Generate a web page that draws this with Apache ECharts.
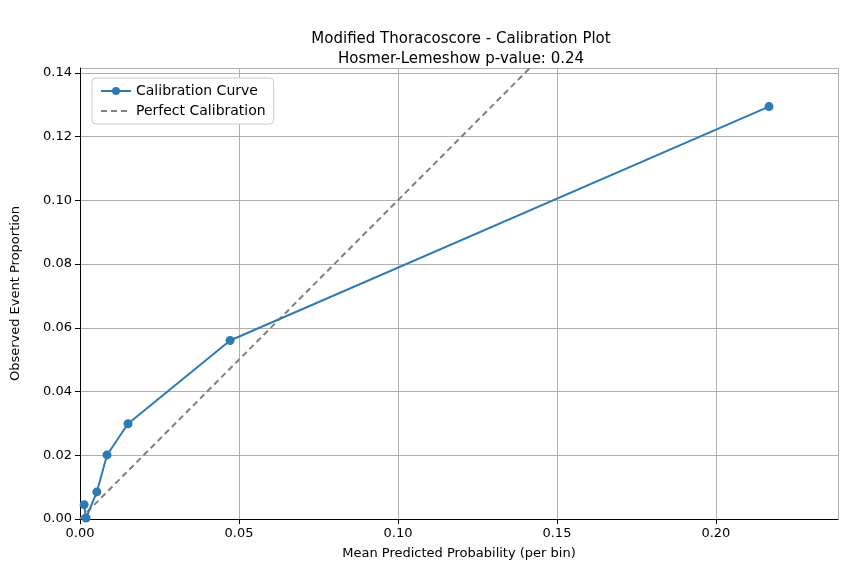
<!DOCTYPE html>
<html><head><meta charset="utf-8">
<script src="https://cdn.jsdelivr.net/npm/echarts@6/dist/echarts.min.js"></script>
<style>body{margin:0;background:#fff}#c{width:862px;height:584px}</style>
</head><body><div id="c"></div>
<script>
var predX = [0.0013, 0.0019, 0.0053, 0.0085, 0.0151, 0.0472, 0.2167];
var obsY = [0.0045, 0.0003, 0.0085, 0.0201, 0.0299, 0.0560, 0.1294];
var perfect = [[0, 0], [0.1415, 0.1415]];

var curve = [];
for (var i = 0; i < predX.length; i++) curve.push([predX[i], obsY[i]]);

var chart = echarts.init(document.getElementById("c"));
chart.setOption({
    animation: false,
    title: {
        text: "Modified Thoracoscore - Calibration Plot\nHosmer-Lemeshow p-value: 0.24",
        left: 456, top: 24, textAlign: "center",
        textStyle: {fontFamily: "DejaVu Sans", fontSize: 15, fontWeight: "normal", color: "#000", lineHeight: 20}
    },
    legend: {
        left: 92, top: 78, orient: "vertical", itemGap: 6,
        backgroundColor: "#fff", borderColor: "#ccc", borderWidth: 1, borderRadius: 4, padding: [6, 8],
        textStyle: {fontFamily: "DejaVu Sans", fontSize: 14, color: "#000"},
        itemWidth: 30, itemHeight: 10,
        data: ["Calibration Curve", {name: "Perfect Calibration", itemStyle: {opacity: 0}}]
    },
    grid: {left: 80, right: 24, top: 68, bottom: 65},
    xAxis: {
        type: "value", min: 0, max: 0.2384, interval: 0.05,
        name: "Mean Predicted Probability (per bin)", nameLocation: "middle", nameGap: 28,
        nameTextStyle: {fontFamily: "DejaVu Sans", fontSize: 13, color: "#000"},
        axisLine: {lineStyle: {color: "#000"}}, axisTick: {show: true, lineStyle: {color: "#000"}},
        axisLabel: {fontFamily: "DejaVu Sans", fontSize: 13, color: "#000", showMaxLabel: false,
            formatter: function (v) { return v.toFixed(2); }},
        splitLine: {lineStyle: {color: "#b0b0b0", width: 1}}
    },
    yAxis: {
        type: "value", min: 0, max: 0.1415, interval: 0.02,
        name: "Observed Event Proportion", nameLocation: "middle", nameGap: 58,
        nameTextStyle: {fontFamily: "DejaVu Sans", fontSize: 13, color: "#000"},
        axisLine: {show: true, lineStyle: {color: "#000"}}, axisTick: {show: true, lineStyle: {color: "#000"}},
        axisLabel: {fontFamily: "DejaVu Sans", fontSize: 13, color: "#000", showMaxLabel: false,
            formatter: function (v) { return v.toFixed(2); }},
        splitLine: {lineStyle: {color: "#b0b0b0", width: 1}}
    },
    series: [{
        name: "Calibration Curve", type: "line", data: curve,
        color: "#2e7bb4", symbol: "circle", symbolSize: 9,
        lineStyle: {width: 2}, z: 3
    }, {
        name: "Perfect Calibration", type: "line", data: perfect,
        color: "#808080", symbol: "none",
        lineStyle: {width: 2, type: [6, 4]}, z: 2
    }]
});
</script></body></html>
